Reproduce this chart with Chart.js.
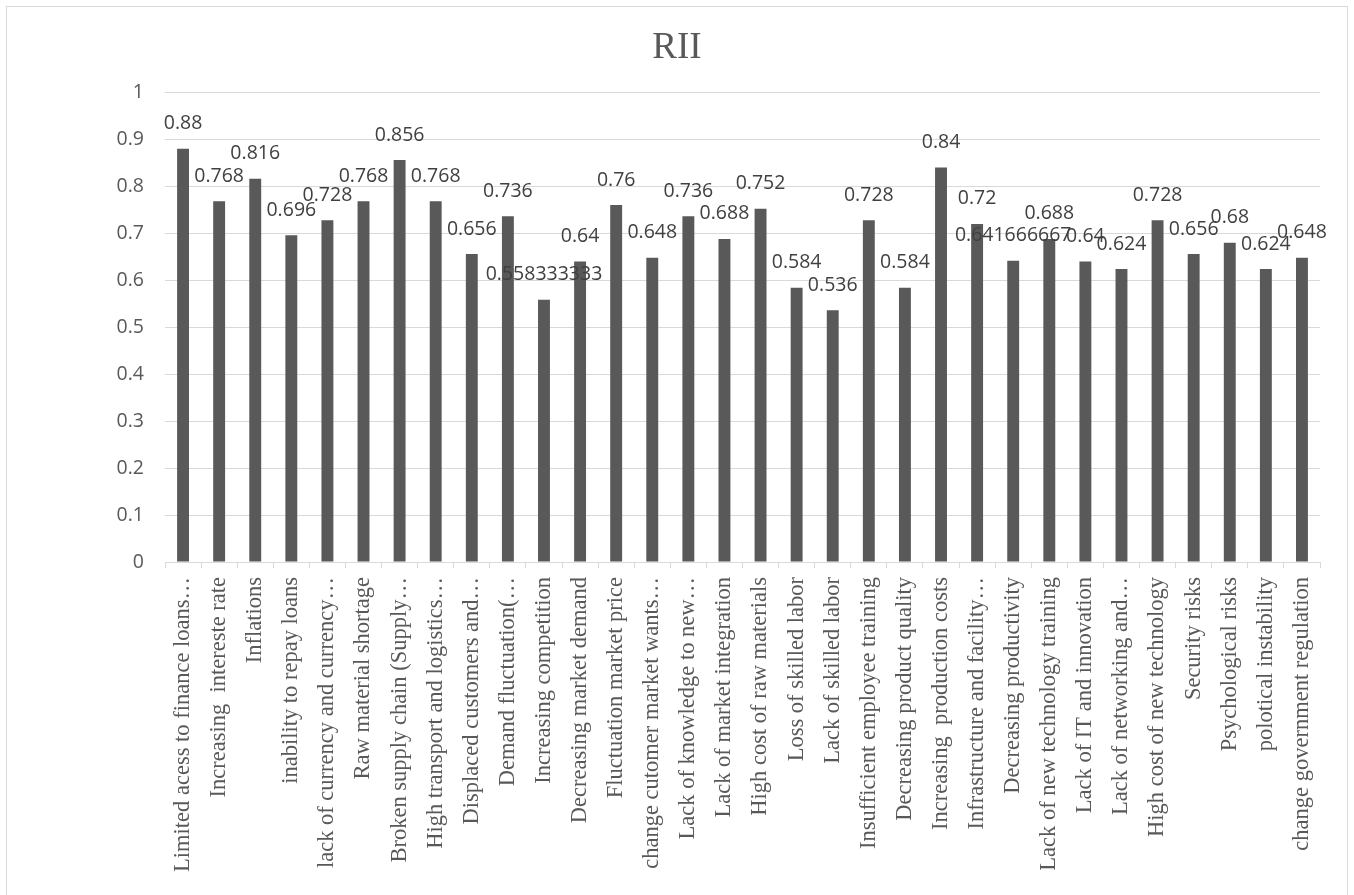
<!DOCTYPE html>
<html>
<head>
<meta charset="utf-8">
<script src="https://cdn.jsdelivr.net/npm/chart.js@4/dist/chart.umd.min.js"></script>
<style>
  html, body { margin: 0; padding: 0; background: #ffffff; }
  #wrap { width: 1354px; height: 895px; position: relative; }
</style>
</head>
<body>
<div id="wrap"><canvas id="rii"></canvas></div>
<script>
// Risk factors (category axis), already shortened where the label is cut.
const categories = [
  "Limited acess to finance loans…",
  "Increasing  intereste rate",
  "Inflations",
  "inability to repay loans",
  "lack of currency and currency…",
  "Raw material shortage",
  "Broken supply chain (Supply…",
  "High transport and logistics…",
  "Displaced customers and…",
  "Demand fluctuation(…",
  "Increasing competition",
  "Decreasing market demand",
  "Fluctuation market price",
  "change cutomer market wants…",
  "Lack of knowledge to new…",
  "Lack of market integration",
  "High cost of raw materials",
  "Loss of skilled labor",
  "Lack of skilled labor",
  "Insufficient employee training",
  "Decreasing product quality",
  "Increasing  production costs",
  "Infrastructure and facility…",
  "Decreasing productivity",
  "Lack of new technology training",
  "Lack of IT and innovation",
  "Lack of networking and…",
  "High cost of new technology",
  "Security risks",
  "Psychological risks",
  "polotical instability",
  "change government regulation"
];

// Relative importance index per factor.
const rii = [
  0.88, 0.768, 0.816, 0.696, 0.728, 0.768, 0.856, 0.768,
  0.656, 0.736, 0.558333333, 0.64, 0.76, 0.648, 0.736, 0.688,
  0.752, 0.584, 0.536, 0.728, 0.584, 0.84, 0.72, 0.641666667,
  0.688, 0.64, 0.624, 0.728, 0.656, 0.68, 0.624, 0.648
];

// Value axis range.
const yMin = 0;
const yMax = 1;
const yStep = 0.1;

const chartTitle = "RII";

// White page with a thin frame around the chart.
const frame = {
  id: 'frame',
  beforeDraw(chart) {
    const { ctx, width, height } = chart;
    ctx.save();
    ctx.fillStyle = '#ffffff';
    ctx.fillRect(0, 0, width, height);
    ctx.strokeStyle = '#d9d9d9';
    ctx.lineWidth = 1;
    ctx.strokeRect(6.5, 6.5, width - 13, height + 10);
    ctx.restore();
  }
};

// Value written above each column.
const valueLabels = {
  id: 'valueLabels',
  afterDatasetsDraw(chart) {
    const { ctx } = chart;
    const meta = chart.getDatasetMeta(0);
    ctx.save();
    ctx.font = '19.5px "Open Sans"';
    ctx.fillStyle = '#404040';
    ctx.textAlign = 'center';
    ctx.textBaseline = 'middle';
    meta.data.forEach((bar, i) => {
      ctx.fillText(String(rii[i]), bar.x, bar.y - 25);
    });
    ctx.restore();
  }
};

new Chart(document.getElementById('rii'), {
  type: 'bar',
  data: {
    labels: categories,
    datasets: [{
      label: chartTitle,
      data: rii,
      backgroundColor: '#595959',
      borderWidth: 0,
      categoryPercentage: 1,
      barPercentage: 0.33
    }]
  },
  options: {
    responsive: true,
    maintainAspectRatio: false,
    animation: false,
    layout: { padding: { top: 0, left: 17, right: 17, bottom: 0 } },
    plugins: {
      legend: { display: false },
      tooltip: { enabled: false },
      title: {
        display: true,
        text: chartTitle,
        color: '#595959',
        font: { family: '"Liberation Serif"', size: 37, weight: 'normal' },
        padding: { top: 26, bottom: 22 }
      }
    },
    scales: {
      x: {
        offset: true,
        grid: {
          display: true,
          drawOnChartArea: false,
          drawTicks: true,
          tickLength: 6,
          color: '#d9d9d9',
          offset: true
        },
        border: { display: true, color: '#d9d9d9' },
        ticks: {
          autoSkip: false,
          minRotation: 90,
          maxRotation: 90,
          padding: 9,
          color: '#595959',
          font: { family: '"Liberation Serif"', size: 22.5 }
        },
        afterFit(scale) { scale.height = 333; }
      },
      y: {
        min: yMin,
        max: yMax,
        grid: { color: '#d9d9d9', drawTicks: false, lineWidth: 1 },
        border: { display: false },
        ticks: {
          stepSize: yStep,
          padding: 21,
          color: '#595959',
          font: { family: '"Open Sans"', size: 19.5 },
          callback: (v) => String(Math.round(v * 10) / 10)
        },
        afterFit(scale) { scale.width = 148; }
      },
      // empty right-hand gutter so the plot ends short of the frame
      gutter: {
        type: 'linear',
        position: 'right',
        display: true,
        grid: { display: false, drawTicks: false },
        border: { display: false },
        ticks: { display: false },
        afterFit(scale) { scale.width = 17; }
      }
    }
  },
  plugins: [frame, valueLabels]
});
</script>
</body>
</html>
